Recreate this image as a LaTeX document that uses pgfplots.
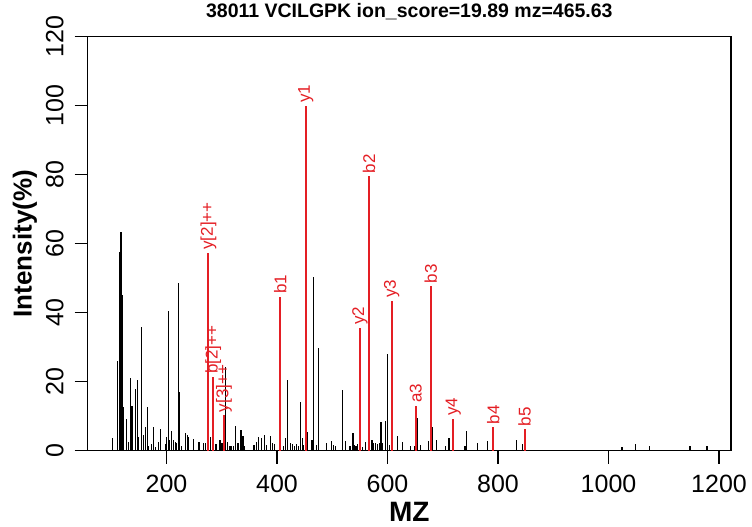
\documentclass[border=0pt]{standalone}
\usepackage{fontspec}
\setmainfont{Liberation Sans}
\usepackage{pgfplots}
\pgfplotsset{compat=1.18}
\definecolor{pkred}{RGB}{228,30,36}

\pgfplotstableread{
x y
102.5 3.6
111.0 26.0
114.6 57.7
117.5 63.5
119.3 45.1
121.8 12.6
128.3 9.2
130.9 2.6
134.5 21.1
137.4 13.0
144.6 17.9
147.1 20.6
149.5 4.0
154.9 35.8
157.9 4.5
162.1 7.0
165.2 12.8
168.0 1.5
173.5 1.9
176.5 6.8
179.6 1.2
185.0 2.4
189.7 6.2
197.7 1.9
200.0 4.1
203.1 40.6
206.0 3.1
209.0 5.7
212.1 3.1
215.7 2.6
218.1 2.2
221.1 48.5
223.5 17.1
227.6 1.5
233.8 5.0
237.4 4.5
239.7 4.1
248.2 3.4
259.0 2.6
266.8 2.1
270.4 2.3
275.3 3.3
279.4 3.9
283.1 2.3
289.7 2.0
296.9 3.1
300.5 2.3
306.5 24.3
310.1 2.6
315.0 1.5
317.9 1.4
320.9 1.5
325.1 7.2
329.4 2.3
334.8 6.0
338.4 4.3
341.3 1.5
358.3 1.7
363.0 2.6
366.6 4.1
371.5 3.6
377.4 4.5
381.0 1.7
388.3 4.3
391.9 2.3
395.5 1.9
411.2 1.4
414.8 3.8
419.7 20.5
424.4 2.3
428.0 2.0
431.6 1.5
434.7 1.9
438.3 1.3
442.4 14.0
446.7 3.8
448.5 1.7
455.8 5.5
463.5 3.1
466.6 50.3
470.8 1.7
474.4 29.7
490.1 2.3
499.1 2.8
502.0 1.6
506.3 1.3
519.0 17.6
523.6 2.8
530.9 1.3
533.4 1.4
537.5 5.0
539.9 1.7
543.0 1.4
546.0 2.0
555.0 1.0
559.7 2.6
567.6 5.7
571.8 3.1
574.9 2.3
578.5 2.3
581.4 1.8
585.0 2.3
588.1 8.2
591.1 2.3
597.1 8.7
600.2 28.0
603.8 1.6
609.7 4.5
618.2 4.3
627.8 2.6
642.2 1.5
648.2 1.5
654.3 9.4
660.3 1.6
674.7 2.8
680.7 6.8
688.6 3.1
705.4 1.4
711.4 3.6
740.2 1.4
743.3 5.8
762.6 2.1
780.7 2.8
833.0 3.1
843.8 1.8
1024.4 1.2
1048.4 1.8
1073.6 1.4
1147.6 1.4
1178.3 1.4
}\blackpeaks

\pgfplotstableread{
x y label
275.8 57.4 {y[2]++}
284.8 21.4 {b[2]++}
304.0 10.3 {y[3]++}
405.8 44.6 {b1}
452.2 100.0 {y1}
550.2 35.6 {y2}
566.4 79.6 {b2}
607.4 43.5 {y3}
651.3 13.0 {a3}
678.3 47.7 {b3}
719.3 9.2 {y4}
791.5 6.8 {b4}
848.0 6.2 {b5}
}\redpeaks

\begin{document}
\begin{tikzpicture}
\begin{axis}[
  name=ax,
  width=643.3bp, height=414bp, scale only axis,
  xmin=57.4, xmax=1221.7, ymin=0, ymax=120,
  axis line style={line width=1.2bp, black},
  xtick={200,400,...,1200}, ytick={0,20,...,120},
  tick pos=left,
  tick align=outside,
  major tick length=13bp,
  tick style={line width=1.2bp, black},
  minor tick num=0,
  /pgf/number format/assume math mode=true,
  /pgf/number format/1000 sep={},
  xticklabel style={font=\fontsize{25bp}{30bp}\selectfont, inner sep=0pt, anchor=north},
  yticklabel style={font=\fontsize{25bp}{30bp}\selectfont, inner sep=0pt, rotate=90, anchor=south},
  xticklabel shift=11bp,
  yticklabel shift=11bp,
  xlabel={MZ},
  xlabel style={at={(axis description cs:0.5,-0.147)}, anchor=center, font=\fontsize{28bp}{32bp}\selectfont\bfseries},
  ylabel={Intensity(\%)},
  ylabel style={at={(axis description cs:-0.0975,0.5)}, anchor=center, font=\fontsize{26bp}{30bp}\selectfont\bfseries},
  title={38011 VCILGPK ion\_score=19.89 mz=465.63},
  title style={at={(axis description cs:0.5,1.045)}, anchor=center, font=\fontsize{19.5bp}{23bp}\selectfont\bfseries},
]
\addplot[ycomb, black, line width=1.2bp, mark=none] table[x=x, y=y] {\blackpeaks};
\addplot[ycomb, pkred, line width=2bp, mark=none,
  nodes near coords, point meta=explicit symbolic,
  nodes near coords style={rotate=90, anchor=west, font=\fontsize{17bp}{20bp}\selectfont, text=pkred, inner sep=2bp}]
  table[x=x, y=y, meta=label] {\redpeaks};
\end{axis}
\pgfresetboundingbox
\path[use as bounding box] ([shift={(-87.7bp,-76.3bp)}]ax.south west) rectangle ++(752bp,527bp);
\end{tikzpicture}
\end{document}
